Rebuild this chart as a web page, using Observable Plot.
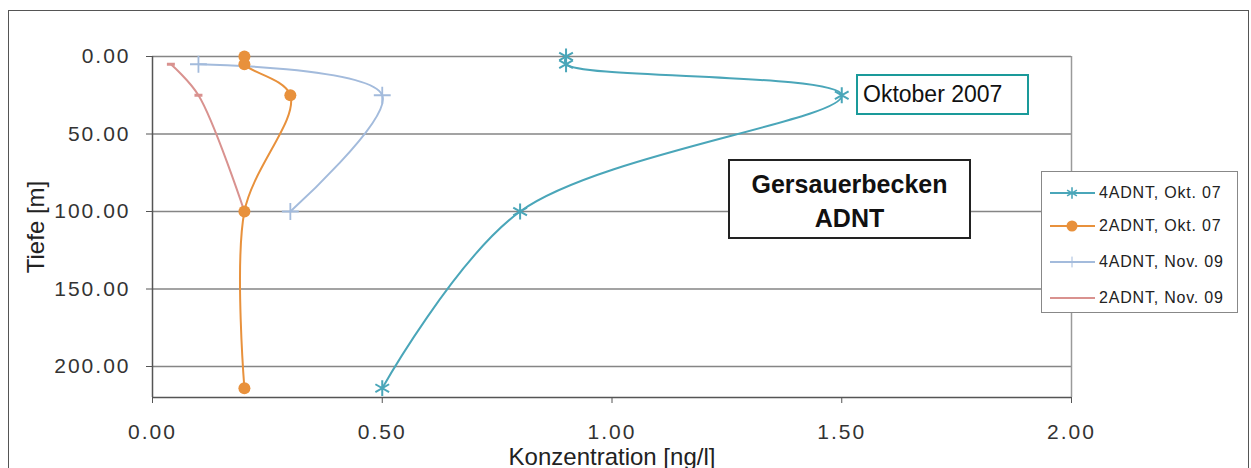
<!DOCTYPE html>
<html>
<head>
<meta charset="utf-8">
<script src="https://cdn.jsdelivr.net/npm/d3@7"></script>
<script src="https://cdn.jsdelivr.net/npm/@observablehq/plot@0.6"></script>
<style>
  html, body { margin: 0; padding: 0; background: #fff; }
  #wrap { position: relative; width: 1251px; height: 468px; overflow: hidden; font-family: "Liberation Sans", Arial, sans-serif; }
  #wrap > svg { position: absolute; left: 0; top: 0; }
  .frame { position: absolute; left: 8px; top: 10px; width: 1241px; height: 500px; border: 1px solid #555; box-sizing: border-box; pointer-events: none; }
  .ann { position: absolute; box-sizing: border-box; background: #fff; color: #111; }
  #okt { left: 856px; top: 74px; width: 173px; height: 41px; border: 2px solid #1a9a9a; font-size: 23px; line-height: 37px; padding-left: 5px; }
  #title { left: 728px; top: 159px; width: 243px; height: 80px; border: 2px solid #222; font-size: 25px; font-weight: bold; text-align: center; line-height: 34px; padding-top: 6px; }
  #legend { left: 1041px; top: 171px; width: 197px; height: 142px; border: 1px solid #888; background: #fff; }
  #legend .row { position: absolute; left: 8px; height: 20px; display: flex; align-items: center; font-size: 16px; letter-spacing: 0.8px; color: #222; white-space: nowrap; }
  #legend .row svg { position: static; display: block; margin-right: 4px; flex: none; }
</style>
</head>
<body>
<div id="wrap"></div>
<script>
// ---- data ----
const seriesNames = ["4ADNT, Okt. 07", "2ADNT, Okt. 07", "4ADNT, Nov. 09", "2ADNT, Nov. 09"];
const seriesColors = ["#4aa6b9", "#e8913c", "#a3bbdc", "#d9928f"];
const depthOkt07 = [0, 5, 25, 100, 214];
const adnt4Okt07 = [0.9, 0.9, 1.5, 0.8, 0.5];
const adnt2Okt07 = [0.2, 0.2, 0.3, 0.2, 0.2];
const depthNov09 = [5, 25, 100];
const adnt4Nov09 = [0.1, 0.5, 0.3];
const adnt2Nov09 = [0.04, 0.1, 0.2];
const xTicks = [0, 0.5, 1, 1.5, 2];
const yTicks = [0, 50, 100, 150, 200];
const xLabel = "Konzentration [ng/l]";
const yLabel = "Tiefe [m]";
const annotationText = "Oktober 2007";
const titleLines = ["Gersauerbecken", "ADNT"];

// ---- rows ----
const rows = (depths, vals) => depths.map((d, i) => ({depth: d, conc: vals[i]}));
const s4Okt = rows(depthOkt07, adnt4Okt07);
const s2Okt = rows(depthOkt07, adnt2Okt07);
const s4Nov = rows(depthNov09, adnt4Nov09);
const s2Nov = rows(depthNov09, adnt2Nov09);

const dash = {draw(ctx, size) { const w = Math.sqrt(size) * 0.9; ctx.rect(-w / 2, -1.5, w, 3); }};

const curve = "catmull-rom";
const line = (data, color) => Plot.line(data, {x: "conc", y: "depth", stroke: color, strokeWidth: 2, curve});

const chart = Plot.plot({
  width: 1251,
  height: 468,
  marginLeft: 152,
  marginRight: 180,
  marginTop: 56,
  marginBottom: 71,
  style: {fontFamily: "'Liberation Sans', Arial, sans-serif", fontSize: "21px", color: "#333", background: "transparent"},
  x: {domain: [0, 2]},
  y: {domain: [0, 220], reverse: true},
  marks: [
    Plot.gridY(yTicks, {stroke: "#858585", strokeOpacity: 1, strokeWidth: 1.6}),
    Plot.ruleX([2], {stroke: "#9a9a9a", strokeWidth: 1.5, y1: 0, y2: 220}),
    Plot.axisY(yTicks, {tickFormat: d => d.toFixed(2), tickSize: 6, tickPadding: 16, stroke: "#555", label: yLabel, labelAnchor: "center", labelOffset: 126, labelArrow: "none"}),
    Plot.axisX(xTicks, {tickFormat: d => d.toFixed(2), tickSize: 6, tickPadding: 21, stroke: "#555", label: xLabel, labelAnchor: "center", labelOffset: 67, labelArrow: "none"}),
    Plot.ruleX([0], {stroke: "#555", strokeWidth: 1.5}),
    Plot.ruleY([220], {stroke: "#555", strokeWidth: 1.5}),
    line(s2Nov, seriesColors[3]),
    line(s4Nov, seriesColors[2]),
    line(s2Okt, seriesColors[1]),
    line(s4Okt, seriesColors[0]),
    Plot.dot(s2Nov, {x: "conc", y: "depth", symbol: dash, r: 5, fill: seriesColors[3], stroke: "none"}),
    Plot.dot(s4Nov, {x: "conc", y: "depth", symbol: "plus", r: 5.5, stroke: seriesColors[2], strokeWidth: 1.8}),
    Plot.dot(s2Okt, {x: "conc", y: "depth", symbol: "circle", r: 6, fill: seriesColors[1], stroke: "none"}),
    Plot.dot(s4Okt, {x: "conc", y: "depth", symbol: "asterisk", r: 7.5, stroke: seriesColors[0], strokeWidth: 2})
  ]
});

const wrap = document.getElementById("wrap");
wrap.appendChild(chart);

// style tick labels / axis labels
const svg = d3.select(chart);
svg.selectAll('g[aria-label="y-axis tick label"] text, g[aria-label="x-axis tick label"] text').attr("letter-spacing", "2px").attr("fill", "#333");
svg.selectAll('g[aria-label="y-axis label"] text, g[aria-label="x-axis label"] text').attr("font-size", "24px").attr("fill", "#222");

// frame
const frame = document.createElement("div");
frame.className = "frame";
wrap.appendChild(frame);

// annotations
const okt = document.createElement("div");
okt.className = "ann"; okt.id = "okt"; okt.textContent = annotationText;
wrap.appendChild(okt);
const title = document.createElement("div");
title.className = "ann"; title.id = "title"; title.innerHTML = titleLines.join("<br>");
wrap.appendChild(title);

// legend
const legend = document.createElement("div");
legend.className = "ann"; legend.id = "legend";
const rowTops = [11, 44, 80, 116];
seriesNames.forEach((name, i) => {
  const row = document.createElement("div");
  row.className = "row";
  row.style.top = rowTops[i] + "px";
  const s = d3.create("svg").attr("width", 45).attr("height", 20);
  s.append("line").attr("x1", 0).attr("x2", 45).attr("y1", 10).attr("y2", 10).attr("stroke", seriesColors[i]).attr("stroke-width", 2);
  if (i === 0) s.append("path").attr("d", d3.symbol(d3.symbolAsterisk, 90)()).attr("transform", "translate(22,10)").attr("stroke", seriesColors[i]).attr("stroke-width", 1.6).attr("fill", "none");
  if (i === 1) s.append("circle").attr("cx", 22).attr("cy", 10).attr("r", 5.5).attr("fill", seriesColors[i]);
  if (i === 2) s.append("path").attr("d", d3.symbol(d3.symbolPlus, 40)()).attr("transform", "translate(22,10)").attr("stroke", seriesColors[i]).attr("stroke-width", 1).attr("fill", "none");
  row.appendChild(s.node());
  const t = document.createElement("span");
  t.textContent = name;
  row.appendChild(t);
  legend.appendChild(row);
});
wrap.appendChild(legend);
</script>
</body>
</html>
